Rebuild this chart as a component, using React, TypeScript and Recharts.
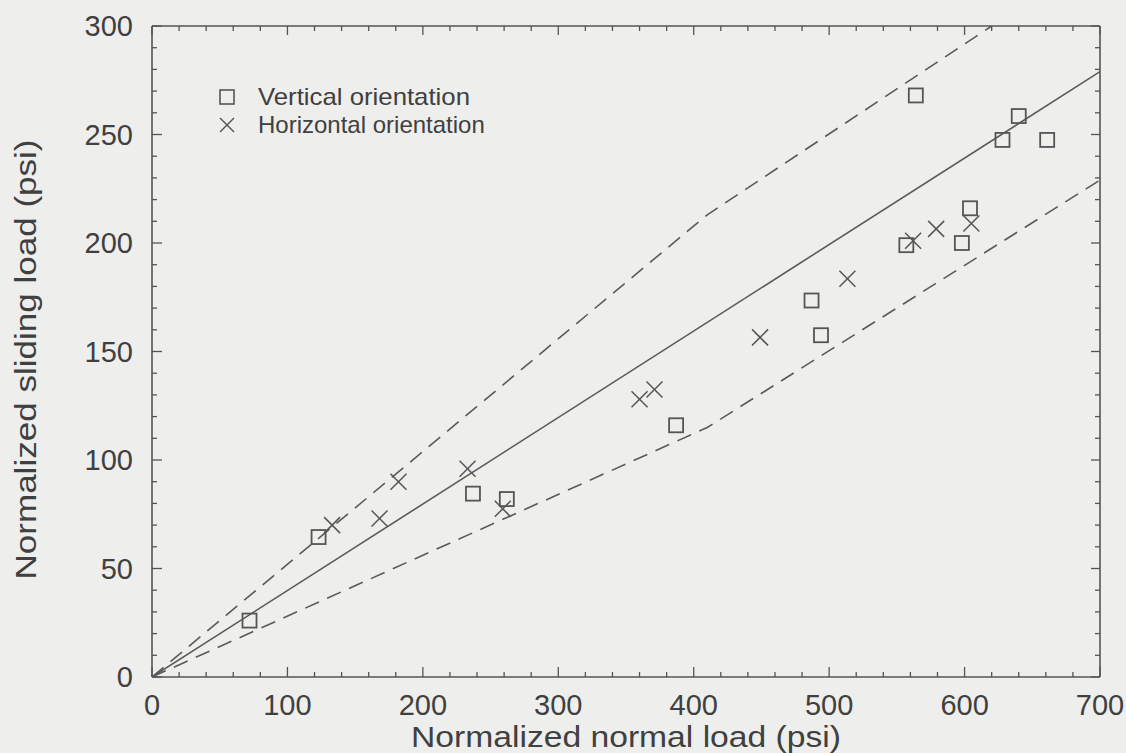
import { ComposedChart, Line, Scatter, XAxis, YAxis, Legend, Label } from "recharts";

// squares: vertical orientation
const verticalX = [72, 123, 237, 262, 387, 487, 494, 557, 564, 598, 604, 628, 640, 661];
const verticalY = [26, 64.5, 84.5, 82, 116, 173.5, 157.5, 199, 268, 200, 216, 247.5, 258.5, 247.5];

// crosses: horizontal orientation
const horizontalX = [133, 168, 182, 233, 259, 360, 371, 449, 513.5, 562, 579, 605];
const horizontalY = [70, 73, 90, 96, 77.5, 128, 132.5, 156.5, 183.5, 201, 206.5, 209];

// fit line and bounds
const fitX = [0, 700];
const fitY = [0, 279];
const upperX = [0, 410, 620];
const upperY = [0, 213, 300];
const lowerX = [0, 410, 700];
const lowerY = [0, 115, 229];

const xTicks = Array.from({ length: 36 }, (_, i) => i * 20);
const yTicks = Array.from({ length: 31 }, (_, i) => i * 10);

const zip = (xs: number[], ys: number[]) => xs.map((x, i) => ({ x, y: ys[i] }));

const verticalData = zip(verticalX, verticalY);
const horizontalData = zip(horizontalX, horizontalY);
const fitData = zip(fitX, fitY);
const upperData = zip(upperX, upperY);
const lowerData = zip(lowerX, lowerY);

const FONT = "'Liberation Sans', Arial, Helvetica, sans-serif";
const TEXT = "#404040";
const INK = "#555";

const BottomTick = (props: any) => {
  const { x, y, payload } = props;
  const major = payload.value % 100 === 0;
  return (
    <g>
      <line x1={x} y1={y} x2={x} y2={y - (major ? 10 : 5)} stroke={INK} strokeWidth={1.3} />
      {major && (
        <text x={x} y={y + 38} textAnchor="middle" fontSize={29} fill={TEXT} fontFamily={FONT}>
          {payload.value}
        </text>
      )}
    </g>
  );
};

const TopTick = (props: any) => {
  const { x, y, payload } = props;
  const major = payload.value % 100 === 0;
  return <line x1={x} y1={y} x2={x} y2={y + (major ? 9 : 5)} stroke={INK} strokeWidth={1.3} />;
};

const LeftTick = (props: any) => {
  const { x, y, payload } = props;
  const major = payload.value % 50 === 0;
  return (
    <g>
      <line x1={x} y1={y} x2={x + (major ? 10 : 5)} y2={y} stroke={INK} strokeWidth={1.3} />
      {major && (
        <text x={x - 19} y={y} dy="0.36em" textAnchor="end" fontSize={29} fill={TEXT} fontFamily={FONT}>
          {payload.value}
        </text>
      )}
    </g>
  );
};

const RightTick = (props: any) => {
  const { x, y, payload } = props;
  const major = payload.value % 50 === 0;
  return <line x1={x} y1={y} x2={x - (major ? 9 : 5)} y2={y} stroke={INK} strokeWidth={1.3} />;
};

const SquareDot = (props: any) => {
  const { cx, cy } = props;
  if (cx == null || cy == null) return <g />;
  return <rect x={cx - 7} y={cy - 7} width={14} height={14} fill="none" stroke={INK} strokeWidth={1.8} />;
};

const CrossDot = (props: any) => {
  const { cx, cy } = props;
  if (cx == null || cy == null) return <g />;
  return (
    <g stroke={INK} strokeWidth={1.5}>
      <line x1={cx - 8} y1={cy - 8} x2={cx + 8} y2={cy + 8} />
      <line x1={cx - 8} y1={cy + 8} x2={cx + 8} y2={cy - 8} />
    </g>
  );
};

const XTitle = (props: any) => {
  const vb = props.viewBox;
  return (
    <text
      x={vb.x + vb.width / 2}
      y={vb.y + 70}
      textAnchor="middle"
      fontSize={29}
      fill={TEXT}
      fontFamily={FONT}
      textLength={430}
      lengthAdjust="spacingAndGlyphs"
    >
      Normalized normal load (psi)
    </text>
  );
};

const YTitle = (props: any) => {
  const vb = props.viewBox;
  const cx = vb.x + 36;
  const cy = vb.y + vb.height / 2 + 8;
  return (
    <text
      x={cx}
      y={cy}
      transform={`rotate(-90 ${cx} ${cy})`}
      textAnchor="middle"
      fontSize={29}
      fill={TEXT}
      fontFamily={FONT}
      textLength={440}
      lengthAdjust="spacingAndGlyphs"
    >
      Normalized sliding load (psi)
    </text>
  );
};

const LegendBox = () => (
  <svg width={270} height={60} style={{ display: "block" }}>
    <rect x={1} y={7} width={14} height={14} fill="none" stroke={INK} strokeWidth={1.6} />
    <text x={39} y={22} fontSize={24} fill={TEXT} fontFamily={FONT} textLength={212} lengthAdjust="spacingAndGlyphs">
      Vertical orientation
    </text>
    <g stroke={INK} strokeWidth={1.4}>
      <line x1={1} y1={35} x2={15} y2={49} />
      <line x1={1} y1={49} x2={15} y2={35} />
    </g>
    <text x={39} y={50} fontSize={24} fill={TEXT} fontFamily={FONT}>
      Horizontal orientation
    </text>
  </svg>
);

export default function App() {
  return (
    <div style={{ position: "absolute", left: 0, top: 0, width: 1126, height: 753, background: "#eeeeec" }}>
      <ComposedChart width={1126} height={753} margin={{ top: 25, right: 25, bottom: 0, left: 0 }}>
        <XAxis
          xAxisId={0}
          type="number"
          dataKey="x"
          domain={[0, 700]}
          ticks={xTicks}
          interval={0}
          tick={BottomTick}
          tickLine={false}
          tickSize={0}
          tickMargin={0}
          height={76}
          axisLine={{ stroke: INK, strokeWidth: 1.6 }}
          allowDataOverflow
        >
          <Label content={XTitle} />
        </XAxis>
        <XAxis
          xAxisId="top"
          orientation="top"
          type="number"
          dataKey="x"
          domain={[0, 700]}
          ticks={xTicks}
          interval={0}
          tick={TopTick}
          tickLine={false}
          tickSize={0}
          tickMargin={0}
          height={1}
          axisLine={{ stroke: INK, strokeWidth: 1.6 }}
          allowDataOverflow
        />
        <YAxis
          yAxisId={0}
          type="number"
          dataKey="y"
          domain={[0, 300]}
          ticks={yTicks}
          interval={0}
          tick={LeftTick}
          tickLine={false}
          tickSize={0}
          tickMargin={0}
          width={152}
          axisLine={{ stroke: INK, strokeWidth: 1.6 }}
          allowDataOverflow
        >
          <Label content={YTitle} />
        </YAxis>
        <YAxis
          yAxisId="right"
          orientation="right"
          type="number"
          dataKey="y"
          domain={[0, 300]}
          ticks={yTicks}
          interval={0}
          tick={RightTick}
          tickLine={false}
          tickSize={0}
          tickMargin={0}
          width={1}
          axisLine={{ stroke: INK, strokeWidth: 1.6 }}
          allowDataOverflow
        />
        <Legend
          layout="vertical"
          align="center"
          verticalAlign="middle"
          wrapperStyle={{ left: 219, top: 83, width: 270 }}
          content={LegendBox}
        />
        <Line data={fitData} dataKey="y" type="linear" stroke="#5a5a5a" strokeWidth={1.6} dot={false} isAnimationActive={false} legendType="none" />
        <Line data={upperData} dataKey="y" type="linear" stroke="#5a5a5a" strokeWidth={1.6} strokeDasharray="15 9" dot={false} isAnimationActive={false} legendType="none" />
        <Line data={lowerData} dataKey="y" type="linear" stroke="#5a5a5a" strokeWidth={1.6} strokeDasharray="15 9" dot={false} isAnimationActive={false} legendType="none" />
        <Scatter name="Vertical orientation" data={verticalData} dataKey="y" shape={SquareDot} isAnimationActive={false} />
        <Scatter name="Horizontal orientation" data={horizontalData} dataKey="y" shape={CrossDot} isAnimationActive={false} />
      </ComposedChart>
    </div>
  );
}
